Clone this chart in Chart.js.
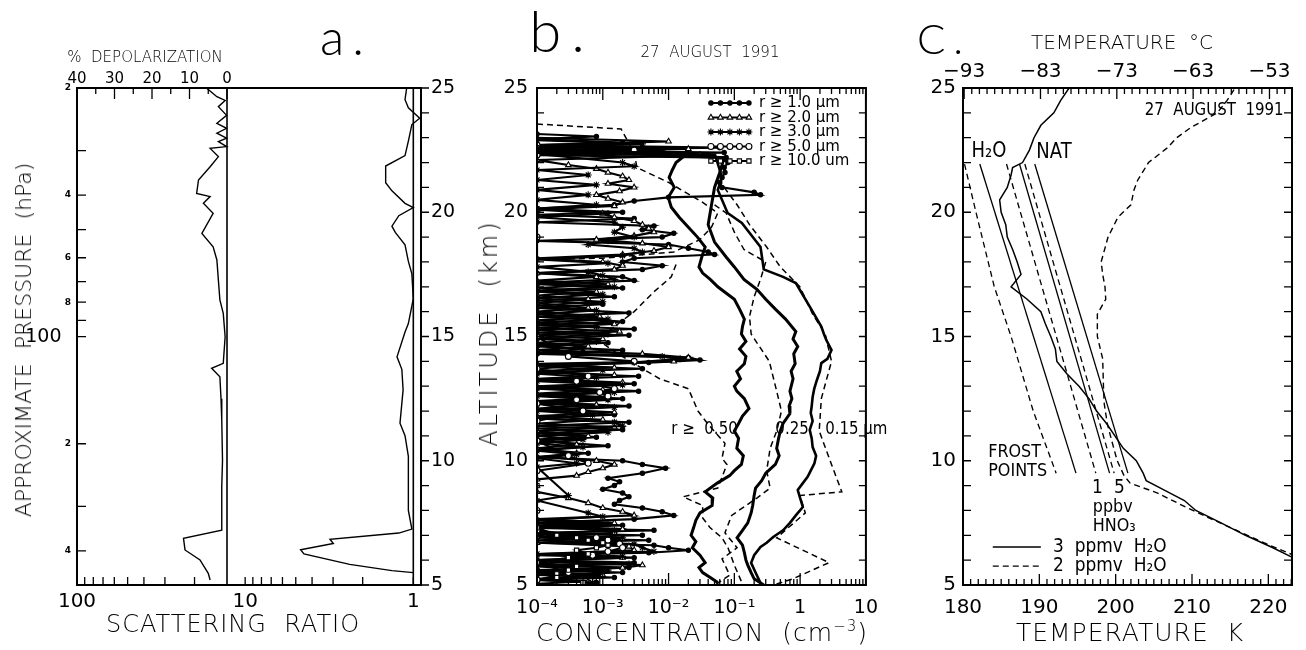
<!DOCTYPE html>
<html>
<head>
<meta charset="utf-8">
<script src="https://cdn.jsdelivr.net/npm/chart.js@4.4.1/dist/chart.umd.min.js"></script>
<style>
  html, body { margin: 0; padding: 0; background: #fff; }
  #page { position: relative; width: 1306px; height: 650px; overflow: hidden;
          font-family: 'DejaVu Sans', sans-serif; color: #000; }
  #page canvas { position: absolute; top: 0; }
  .lbl { position: absolute; white-space: pre; line-height: 1; transform: translate(-50%, -50%); font-weight: 200; }
  .big { font-family: 'Lato', 'DejaVu Sans', sans-serif; font-weight: 300; }
</style>
</head>
<body>
<div id="page">
  <canvas id="panelA" width="470" height="650" style="left:0px"></canvas>
  <canvas id="panelB" width="420" height="650" style="left:470px"></canvas>
  <canvas id="panelC" width="416" height="650" style="left:890px"></canvas>

  <!-- panel a titles -->
  <div class="lbl" style="left:145px;top:57px;font-size:15px">%  DEPOLARIZATION</div>
  <div class="lbl big" style="left:346px;top:36px;font-size:50px;letter-spacing:8px">a.</div>
  <div class="lbl" style="left:233px;top:624px;font-size:24px;letter-spacing:1px">SCATTERING  RATIO</div>
  <div class="lbl" style="left:24px;top:340px;font-size:22px;transform:translate(-50%,-50%) rotate(-90deg)">APPROXIMATE  PRESSURE  (hPa)</div>

  <!-- panel b titles -->
  <div class="lbl" style="left:489px;top:333px;font-size:24px;letter-spacing:3px;transform:translate(-50%,-50%) rotate(-90deg)">ALTITUDE  (km)</div>
  <div class="lbl big" style="left:562px;top:30px;font-size:58px;letter-spacing:10px">b.</div>
  <div class="lbl" style="left:710px;top:52px;font-size:15px">27  AUGUST  1991</div>
  <div class="lbl" style="left:702px;top:632px;font-size:25px;letter-spacing:1px">CONCENTRATION  (cm<sup style="font-size:15px">−3</sup>)</div>

  <!-- panel c titles -->
  <div class="lbl big" style="left:944px;top:38px;font-size:42px;letter-spacing:8px">C.</div>
  <div class="lbl" style="left:1122px;top:42px;font-size:20px">TEMPERATURE  °C</div>
  <div class="lbl" style="left:1130px;top:632px;font-size:25px;letter-spacing:1px">TEMPERATURE  K</div>
</div>

<script>
// ---------------- panel a: lidar profiles, [altitude km, value] ----------------
const depolProfile = [
  [24.99, 5.4], [24.65, 2.7], [24.5, 0.5], [24.25, 2.3], [23.9, 0.1], [23.58, 2.7],
  [23.38, 0.1], [23.18, 2.7], [22.98, 0.1], [22.84, 2.3], [22.64, 0.1], [22.57, 4.5],
  [22.24, 2.3], [21.83, 4.5], [21.3, 7.6], [20.76, 8.1], [20.63, 4.5], [20.36, 6.3],
  [19.96, 3.7], [19.15, 6.7], [18.61, 3.7], [18.08, 2.7], [17.27, 2.3], [16.47, 1.9],
  [15.93, 1.0], [14.99, 0.5], [13.92, 1.0], [13.72, 4.1], [13.38, 1.9], [12.5, 1.6],
  [11.64, 1.4], [10.0, 1.2], [8.96, 1.4], [7.21, 1.4], [6.88, 11.6], [6.41, 11.2],
  [6.01, 7.2], [5.47, 5.0], [5.2, 4.5]
];
const scatProfile = [
  [25.0, 1.095], [24.53, 1.12], [24.2, 1.07], [23.78, 0.916], [23.53, 1.02], [22.86, 1.07],
  [22.28, 1.12], [21.86, 1.46], [21.19, 1.46], [20.86, 1.34], [20.36, 1.12], [20.19, 1.0],
  [19.86, 1.22], [19.44, 1.34], [19.19, 1.28], [18.69, 1.12], [18.02, 1.07], [17.52, 1.02],
  [16.52, 1.0], [15.52, 1.07], [15.18, 1.12], [14.18, 1.25], [13.68, 1.17], [12.85, 1.15],
  [11.51, 1.2], [11.01, 1.12], [10.18, 1.07], [8.0, 1.07], [7.25, 1.02], [7.09, 1.22],
  [6.84, 3.13], [6.67, 2.99], [6.42, 4.68], [6.25, 4.47], [5.83, 2.39], [5.58, 1.34], [5.5, 1.0]
];
const depolZeroLine = [[5, 0], [25, 0]];
const ratioOneLine = [[5, 1], [25, 1]];

const pressureTicks = [20, 30, 40, 50, 60, 70, 80, 90, 100, 200, 300, 400];
const pressureTickLabels = ['2', '', '4', '', '6', '', '8', '', '100\u2002', '2', '', '4'];
const ratioTicks = [100, 90, 80, 70, 60, 50, 40, 30, 20, 10, 9, 8, 7, 6, 5, 4, 3, 2, 1];
const ratioTickLabels = ['100', '', '', '', '', '', '', '', '', '10', '', '', '', '', '', '', '', '', '1'];
const depolTicks = [40, 35, 30, 25, 20, 15, 10, 5, 0];
const depolTickLabels = ['40', '', '30', '', '20', '', '10', '', '0'];

// ---------------- panel b: particle concentrations, [altitude km, cm^-3] ----------------
const sol050 = [
  [22.6, 0.0001], [22.3, 0.018], [22.0, 0.013], [21.7, 0.0114], [21.4, 0.0102], [21.0, 0.0122],
  [20.6, 0.0099], [20.2, 0.011], [19.8, 0.0145], [19.4, 0.020], [19.0, 0.0275], [18.6, 0.036],
  [18.2, 0.032], [17.8, 0.029], [17.55, 0.033], [17.3, 0.043], [17.0, 0.056], [16.7, 0.079],
  [16.5, 0.10], [16.1, 0.12], [15.7, 0.142], [15.4, 0.133], [15.1, 0.128], [14.8, 0.15],
  [14.5, 0.12], [14.2, 0.15], [13.9, 0.142], [13.6, 0.109], [13.3, 0.124], [13.0, 0.10],
  [12.8, 0.109], [12.5, 0.142], [12.1, 0.167], [11.8, 0.133], [11.5, 0.116], [11.2, 0.10],
  [10.9, 0.116], [10.5, 0.109], [10.2, 0.137], [9.85, 0.128], [9.6, 0.10], [9.4, 0.085],
  [9.1, 0.055], [8.75, 0.036], [8.5, 0.047], [8.2, 0.046], [7.9, 0.030], [7.6, 0.026],
  [7.3, 0.024], [7.0, 0.022], [6.75, 0.026], [6.5, 0.023], [6.2, 0.030], [5.9, 0.036],
  [5.7, 0.029], [5.5, 0.033], [5.3, 0.043], [5.1, 0.056]
];
const sol025 = [
  [22.5, 0.0001], [22.2, 0.07], [21.6, 0.06], [21.0, 0.05], [20.3, 0.045], [19.5, 0.04],
  [18.8, 0.05], [18.2, 0.075], [17.8, 0.10], [17.3, 0.14], [16.9, 0.22], [16.5, 0.30],
  [16.1, 0.42], [15.7, 0.60], [15.2, 0.86], [14.9, 0.78], [14.6, 0.92], [14.3, 0.80],
  [13.9, 0.84], [13.6, 0.73], [13.3, 0.78], [12.8, 0.70], [12.5, 0.75], [12.2, 0.68],
  [11.9, 0.70], [11.5, 0.55], [11.2, 0.50], [10.9, 0.47], [10.5, 0.44], [10.2, 0.48],
  [9.85, 0.42], [9.5, 0.30], [9.2, 0.26], [8.9, 0.21], [8.6, 0.20], [8.2, 0.19],
  [7.9, 0.18], [7.5, 0.16], [7.2, 0.133], [6.9, 0.11], [6.6, 0.133], [6.3, 0.142],
  [6.0, 0.15], [5.8, 0.16], [5.5, 0.18], [5.25, 0.20], [5.0, 0.28]
];
const sol015 = [
  [22.4, 0.0001], [22.3, 0.051], [21.4, 0.065], [20.9, 0.056], [19.97, 0.079], [19.57, 0.13],
  [18.6, 0.25], [17.7, 0.28], [17.4, 0.55], [17.15, 0.86], [16.2, 1.4], [15.4, 2.1],
  [15.1, 2.3], [14.86, 2.5], [14.46, 3.0], [14.1, 2.6], [13.93, 2.1], [13.6, 2.0],
  [13.25, 1.8], [12.9, 1.64], [12.57, 1.55], [12.2, 1.5], [11.92, 1.45], [11.6, 1.55],
  [11.24, 1.4], [10.9, 1.5], [10.55, 1.55], [10.2, 1.75], [9.9, 1.65], [9.6, 1.45],
  [9.35, 1.3], [9.1, 1.1], [8.82, 0.92], [8.5, 1.0], [8.14, 1.1], [7.8, 0.86],
  [7.5, 0.70], [7.2, 0.55], [6.93, 0.39], [6.7, 0.31], [6.53, 0.25], [6.2, 0.20],
  [5.89, 0.18], [5.5, 0.21], [5.08, 0.25]
];
const dash050a = [
  [23.55, 0.0001], [23.35, 0.0019], [22.4, 0.003], [21.8, 0.0033], [21.2, 0.01], [20.4, 0.033],
  [19.97, 0.056], [19.4, 0.045], [18.9, 0.03], [18.4, 0.012], [18.15, 0.001], [18.1, 0.0001]
];
const dash050b = [
  [17.9, 0.013], [17.4, 0.011], [16.8, 0.006], [16.0, 0.003], [15.2, 0.0012], [14.9, 0.0008],
  [14.3, 0.0017], [13.3, 0.0073], [12.9, 0.02], [12.0, 0.028], [11.5, 0.039], [10.7, 0.072],
  [10.1, 0.065], [9.85, 0.077], [8.9, 0.056], [8.55, 0.0166], [8.2, 0.033], [7.7, 0.033],
  [7.3, 0.043], [6.9, 0.065], [6.5, 0.08], [5.8, 0.1], [5.1, 0.13]
];
const dash025 = [
  [20.3, 0.05], [19.97, 0.075], [19.2, 0.1], [18.5, 0.14], [18.0, 0.3], [17.3, 0.25],
  [16.6, 0.2], [15.8, 0.17], [15.1, 0.18], [14.0, 0.34], [12.8, 0.44], [12.0, 0.52],
  [11.2, 0.44], [10.5, 0.35], [9.6, 0.31], [8.9, 0.35], [8.5, 0.22], [7.8, 0.091],
  [7.1, 0.072], [6.5, 0.11], [6.05, 0.065], [5.4, 0.085], [5.0, 0.051]
];
const dash015 = [
  [21.0, 0.07], [20.3, 0.11], [19.5, 0.17], [18.6, 0.31], [17.8, 0.5], [17.0, 0.99],
  [15.9, 1.55], [15.1, 2.4], [14.0, 3.0], [12.5, 2.1], [11.2, 1.95], [9.85, 3.0],
  [8.75, 4.3], [8.6, 0.99], [7.9, 1.2], [6.9, 0.44], [5.9, 2.75], [5.25, 0.78], [5.0, 0.39]
];
const r1Profile = [
  [23.15, 1e-4], [23.05, 0.0008], [22.95, 1e-4], [22.8, 0.002], [22.7, 1e-4], [22.6, 0.06],
  [22.5, 1e-4], [22.4, 0.07], [22.3, 1e-4], [22.2, 0.075], [22.0, 0.08], [21.8, 0.07],
  [21.6, 0.072], [21.4, 0.065], [21.2, 0.06], [21.0, 0.065], [20.8, 0.2], [20.7, 0.25],
  [20.6, 0.01], [20.45, 0.003], [20.3, 0.0015], [20.15, 1e-4], [20.0, 0.002], [19.9, 1e-4],
  [19.75, 0.003], [19.6, 1e-4], [19.45, 0.006], [19.3, 0.004], [19.15, 0.012], [19.0, 0.008],
  [18.85, 1e-4], [18.7, 0.01], [18.55, 0.02], [18.4, 0.04], [18.3, 0.05], [18.15, 0.003],
  [18.0, 0.002], [17.85, 0.008], [17.7, 0.004], [17.55, 1e-4], [17.4, 0.002], [17.25, 0.003],
  [17.1, 1e-4], [16.95, 0.002], [16.8, 1e-4], [16.6, 0.0015], [16.45, 1e-4], [16.3, 0.001],
  [16.15, 1e-4], [15.95, 0.0025], [15.8, 1e-4], [15.6, 0.002], [15.45, 1e-4], [15.3, 0.003],
  [15.15, 1e-4], [15.05, 0.0025], [14.9, 1e-4], [14.75, 0.0012], [14.6, 1e-4], [14.45, 0.002],
  [14.3, 1e-4], [14.15, 0.02], [14.05, 0.03], [13.95, 0.005], [13.85, 1e-4], [13.7, 0.004],
  [13.55, 1e-4], [13.4, 0.0035], [13.25, 1e-4], [13.1, 0.003], [12.95, 1e-4], [12.8, 0.0035],
  [12.65, 1e-4], [12.5, 0.002], [12.35, 1e-4], [12.2, 0.0025], [12.05, 1e-4], [11.85, 0.0015],
  [11.7, 1e-4], [11.55, 0.0025], [11.4, 1e-4], [11.25, 0.002], [11.1, 1e-4], [10.95, 0.0008],
  [10.8, 1e-4], [10.6, 0.0012], [10.45, 1e-4], [10.3, 0.0006], [10.15, 1e-4], [10.0, 0.002],
  [9.85, 0.004], [9.7, 0.009], [9.5, 0.004], [9.3, 0.0012], [9.15, 0.0018], [9.0, 0.0015],
  [8.85, 0.001], [8.7, 0.002], [8.55, 0.0025], [8.4, 0.0018], [8.25, 0.0015], [8.1, 0.004],
  [7.95, 0.008], [7.8, 0.012], [7.65, 0.003], [7.5, 1e-4], [7.4, 0.002], [7.3, 1e-4],
  [7.2, 0.006], [7.1, 1e-4], [7.0, 0.004], [6.9, 1e-4], [6.8, 0.005], [6.7, 1e-4],
  [6.6, 0.006], [6.5, 0.01], [6.4, 0.02], [6.3, 0.005], [6.2, 1e-4], [6.1, 0.003],
  [6.0, 1e-4], [5.9, 0.003], [5.8, 1e-4], [5.7, 0.0025], [5.6, 1e-4], [5.5, 0.002],
  [5.4, 1e-4], [5.3, 0.0015], [5.2, 1e-4], [5.1, 0.0008], [5.02, 0.0005]
];
const r2Profile = [
  [23.0, 1e-4], [22.85, 0.01], [22.7, 1e-4], [22.55, 0.02], [22.45, 1e-4], [22.3, 0.03],
  [22.1, 1e-4], [21.9, 0.0003], [21.75, 0.0008], [21.6, 0.0012], [21.45, 0.002], [21.3, 0.0025],
  [21.15, 0.0012], [21.0, 0.003], [20.85, 0.0018], [20.7, 0.0008], [20.55, 0.0012], [20.4, 0.002],
  [20.25, 0.0015], [20.1, 1e-4], [19.95, 0.001], [19.8, 0.0015], [19.65, 0.003], [19.5, 0.004],
  [19.35, 0.005], [19.2, 0.006], [19.05, 0.003], [18.9, 0.0008], [18.75, 0.004], [18.6, 0.01],
  [18.45, 0.006], [18.3, 0.002], [18.15, 1e-4], [18.0, 0.001], [17.85, 0.002], [17.7, 0.0015],
  [17.55, 1e-4], [17.4, 0.0008], [17.25, 1e-4], [17.1, 0.0012], [16.95, 1e-4], [16.8, 0.0008],
  [16.65, 1e-4], [16.5, 0.0006], [16.35, 1e-4], [16.15, 0.0006], [16.0, 1e-4], [15.8, 0.0009],
  [15.65, 1e-4], [15.5, 0.0015], [15.35, 1e-4], [15.2, 0.0018], [15.05, 1e-4], [14.9, 0.001],
  [14.75, 1e-4], [14.6, 0.0006], [14.45, 1e-4], [14.3, 0.004], [14.15, 0.02], [14.0, 0.012],
  [13.9, 1e-4], [13.75, 0.0015], [13.6, 1e-4], [13.45, 0.0015], [13.3, 1e-4], [13.15, 0.002],
  [13.0, 1e-4], [12.85, 0.001], [12.7, 1e-4], [12.55, 0.0012], [12.4, 1e-4], [12.25, 0.0008],
  [12.1, 1e-4], [11.95, 0.0015], [11.8, 1e-4], [11.65, 0.001], [11.5, 1e-4], [11.35, 0.0015],
  [11.2, 1e-4], [11.0, 0.0006], [10.85, 1e-4], [10.65, 0.0004], [10.5, 1e-4], [10.3, 0.0004],
  [10.15, 1e-4], [10.0, 0.0008], [9.85, 0.0015], [9.7, 0.001], [9.55, 0.0006], [9.4, 0.0004],
  [9.25, 1e-4], [9.0, 1e-4], [8.75, 1e-4], [8.5, 0.0003], [8.3, 0.0006], [8.1, 0.001],
  [7.95, 0.002], [7.8, 0.003], [7.65, 1e-4], [7.5, 0.0015], [7.4, 1e-4], [7.25, 0.002],
  [7.1, 0.0015], [6.95, 1e-4], [6.85, 0.002], [6.7, 1e-4], [6.55, 0.0025], [6.4, 0.003],
  [6.25, 1e-4], [6.1, 0.002], [5.95, 1e-4], [5.8, 0.004], [5.7, 0.002], [5.55, 1e-4],
  [5.4, 0.001], [5.25, 1e-4], [5.15, 0.0006], [5.05, 1e-4]
];
const r3Profile = [
  [22.9, 1e-4], [22.75, 0.004], [22.65, 1e-4], [22.5, 0.008], [22.35, 1e-4], [22.0, 0.002],
  [21.85, 0.003], [21.7, 1e-4], [21.5, 0.0006], [21.3, 1e-4], [21.1, 0.0008], [20.9, 1e-4],
  [20.7, 0.0006], [20.5, 1e-4], [20.3, 0.0008], [20.15, 1e-4], [19.95, 0.0012], [19.8, 1e-4],
  [19.6, 0.0015], [19.4, 0.002], [19.2, 0.0015], [19.0, 0.003], [18.85, 0.0012], [18.7, 0.0006],
  [18.55, 0.003], [18.4, 0.004], [18.25, 0.002], [18.1, 1e-4], [17.95, 0.0012], [17.8, 1e-4],
  [17.6, 0.0006], [17.45, 0.001], [17.3, 0.0015], [17.15, 1e-4], [17.0, 0.0015], [16.85, 1e-4],
  [16.7, 0.001], [16.55, 1e-4], [16.4, 0.001], [16.25, 1e-4], [16.05, 0.0008], [15.9, 1e-4],
  [15.7, 0.0012], [15.55, 1e-4], [15.4, 0.0008], [15.25, 1e-4], [15.1, 0.0012], [14.95, 1e-4],
  [14.8, 0.0008], [14.65, 1e-4], [14.5, 0.0005], [14.35, 1e-4], [14.2, 0.008], [14.1, 0.015],
  [13.95, 0.003], [13.8, 1e-4], [13.65, 0.001], [13.5, 1e-4], [13.35, 0.0008], [13.2, 1e-4],
  [13.05, 0.002], [12.9, 1e-4], [12.75, 0.0015], [12.6, 1e-4], [12.45, 0.0012], [12.3, 1e-4],
  [12.15, 0.0015], [12.0, 1e-4], [11.85, 0.0007], [11.7, 1e-4], [11.55, 0.0015], [11.4, 0.002],
  [11.3, 1e-4], [11.15, 0.0012], [11.0, 1e-4], [10.85, 0.0005], [10.7, 1e-4], [10.55, 0.0005],
  [10.4, 1e-4], [10.25, 0.0004], [10.1, 1e-4], [9.9, 0.0004], [9.75, 1e-4], [8.6, 0.0003],
  [8.4, 1e-4], [7.9, 0.0006], [7.75, 0.001], [7.6, 1e-4], [7.45, 0.0012], [7.35, 1e-4],
  [7.2, 0.0015], [7.05, 1e-4], [6.9, 0.002], [6.8, 1e-4], [6.65, 0.003], [6.5, 0.004],
  [6.35, 0.006], [6.25, 1e-4], [6.15, 0.002], [6.0, 1e-4], [5.85, 0.0025], [5.75, 1e-4],
  [5.6, 0.0012], [5.5, 1e-4], [5.35, 0.0008], [5.2, 1e-4], [5.1, 0.0007]
];
const r5Profile = [
  [22.7, 1e-4], [22.5, 0.003], [22.3, 1e-4], [19.0, 1e-4], [15.0, 1e-4], [14.2, 0.0003],
  [14.0, 0.003], [13.7, 1e-4], [13.4, 0.0006], [13.2, 0.0004], [12.9, 0.0015], [12.75, 0.0009],
  [12.6, 0.0012], [12.45, 0.0004], [12.3, 1e-4], [12.0, 0.0005], [11.6, 1e-4], [10.8, 1e-4],
  [10.2, 0.0003], [9.9, 0.0006], [9.6, 1e-4], [8.0, 1e-4], [7.2, 1e-4], [6.9, 0.0008],
  [6.8, 0.0012], [6.65, 0.0018], [6.5, 0.002], [6.35, 0.0012], [6.2, 0.0007], [5.9, 1e-4],
  [5.5, 0.0003], [5.2, 1e-4]
];
const r10Profile = [
  [22.6, 1e-4], [15.0, 1e-4], [9.0, 1e-4], [7.3, 1e-4], [7.0, 0.0002], [6.9, 0.0004],
  [6.8, 0.0006], [6.7, 0.001], [6.6, 0.0012], [6.5, 0.0008], [6.4, 0.0004], [6.25, 0.0006],
  [6.1, 0.0003], [5.9, 1e-4], [5.75, 0.0004], [5.6, 0.0003], [5.45, 0.0002], [5.3, 0.0002],
  [5.1, 0.0005]
];
const concDecades = [1e-4, 1e-3, 1e-2, 1e-1, 1, 10];
const concDecadeLabels = ['10⁻⁴', '10⁻³', '10⁻²', '10⁻¹', '1', '10'];
const sizeLegend = ['r ≥ 1.0 µm', 'r ≥ 2.0 µm', 'r ≥ 3.0 µm', 'r ≥ 5.0 µm', 'r ≥ 10.0 um'];

// ---------------- panel c: temperatures, [altitude km, K] ----------------
const tempProfile = [
  [25, 193.9], [24.5, 192.8], [24, 191.9], [23.5, 190.2], [23, 189.3], [22.5, 188.7],
  [22, 187.8], [21.8, 186.5], [21.5, 186.3], [21, 185.8], [20.5, 184.8], [20, 185.0],
  [19.5, 185.6], [19, 185.8], [18.5, 186.5], [18, 187.1], [17.5, 187.6], [17, 186.3],
  [16.5, 188.4], [16, 190.2], [15.5, 190.8], [15, 191.5], [14.5, 192.1], [14, 192.3],
  [13.5, 193.6], [13, 195.2], [12.5, 196.5], [12, 197.5], [11.5, 198.8], [11, 199.9],
  [10.5, 201.0], [10, 202.7], [9.5, 203.6], [9.2, 204.0], [8.8, 206.5], [8.4, 209.0],
  [8.0, 210.5], [7.5, 213.8], [7.0, 217.0], [6.5, 220.6], [6.1, 223.2]
];
const sondeProfile = [
  [24.93, 215.5], [24.5, 214.6], [24.0, 213.3], [23.4, 209.8], [23.0, 208.0], [22.6, 206.8],
  [22.0, 204.3], [21.3, 202.9], [20.9, 202.4], [20.3, 202.0], [19.8, 200.3], [19.0, 199.0],
  [18.0, 198.1], [17.5, 198.3], [17.0, 198.6], [16.5, 198.7], [15.9, 197.6], [15.0, 197.6],
  [14.1, 198.3], [13.0, 198.4], [12.3, 198.5], [11.5, 198.9], [10.9, 199.4], [10.0, 200.2],
  [9.4, 201.1], [9.1, 201.9], [8.7, 205.5], [8.1, 209.4], [7.3, 215.1], [6.7, 219.4], [6.2, 223.3]
];
const frost2ppmv = [[21.94, 180.2], [20.0, 181.7], [17.0, 184.1], [15.0, 186.3], [12.0, 189.2], [9.5, 192.2]];
const frost3ppmv = [[21.94, 182.2], [9.5, 194.8]];
const nat1ppbv2ppmv = [[21.94, 185.7], [9.5, 197.4]];
const nat1ppbv3ppmv = [[21.94, 187.4], [9.5, 199.2]];
const nat5ppbv2ppmv = [[21.94, 188.1], [9.5, 199.8]];
const nat5ppbv3ppmv = [[21.94, 189.4], [9.5, 201.6]];

// ---------------- helpers ----------------
Chart.defaults.font.family = "'DejaVu Sans', sans-serif";
Chart.defaults.color = '#000';

function toPoints(profile) {
  return profile.map(([alt, v]) => ({ x: v, y: alt }));
}

function fixSize(size) {
  return (scale) => {
    if (scale.isHorizontal()) scale.height = size; else scale.width = size;
  };
}

function setTicks(values) {
  return (scale) => { scale.ticks = values.map(v => ({ value: v })); };
}

function range(a, b) {
  const out = [];
  for (let v = a; v <= b; v++) out.push(v);
  return out;
}

function isDecade(v) {
  return concDecades.some(d => Math.abs(v / d - 1) < 1e-6);
}

function curve(profile, extra) {
  return Object.assign({
    data: toPoints(profile),
    showLine: true,
    borderColor: '#000',
    borderWidth: 1.3,
    pointRadius: 0,
    fill: false
  }, extra || {});
}

function bareAxis(extra) {
  return Object.assign({
    grid: { display: false, drawTicks: false },
    border: { display: false }
  }, extra);
}

// frame, tick marks and in-plot text, drawn with the chart's own scales
function decor(spec) {
  return {
    id: 'decor',
    afterDraw(chart) {
      const ctx = chart.ctx;
      const a = chart.chartArea;
      ctx.save();
      ctx.strokeStyle = '#000';
      ctx.fillStyle = '#000';
      (spec.ticks || []).forEach((t) => {
        const s = chart.scales[t.scale];
        const sign = t.dir === 'in' ? 1 : -1;
        ctx.lineWidth = t.width || 1.3;
        ctx.beginPath();
        s.ticks.forEach((tick) => {
          const p = s.getPixelForValue(tick.value);
          const len = (t.isMajor && t.isMajor(tick.value)) ? t.majorLen : t.len;
          if (s.position === 'bottom') { ctx.moveTo(p, a.bottom); ctx.lineTo(p, a.bottom - sign * len); }
          else if (s.position === 'top') { ctx.moveTo(p, a.top); ctx.lineTo(p, a.top + sign * len); }
          else if (s.position === 'left') { ctx.moveTo(a.left, p); ctx.lineTo(a.left + sign * len, p); }
          else { ctx.moveTo(a.right, p); ctx.lineTo(a.right - sign * len, p); }
        });
        ctx.stroke();
      });
      ctx.lineWidth = spec.frame || 2;
      ctx.strokeRect(a.left, a.top, a.right - a.left, a.bottom - a.top);

      const xs = chart.scales.x;
      const ys = chart.scales.y;
      (spec.texts || []).forEach((t) => {
        ctx.save();
        ctx.font = t.font || "15px 'DejaVu Sans'";
        ctx.textAlign = t.align || 'left';
        ctx.textBaseline = 'middle';
        ctx.translate(xs.getPixelForValue(t.x), ys.getPixelForValue(t.y));
        ctx.scale(1, 1.15);
        ctx.fillText(t.text, 0, 0);
        ctx.restore();
      });
      if (spec.extra) spec.extra(chart, ctx);
      ctx.restore();
    }
  };
}

// ---------------- panel a ----------------
new Chart(document.getElementById('panelA'), {
  type: 'scatter',
  data: {
    datasets: [
      curve(depolProfile, { xAxisID: 'x2', borderWidth: 1.4 }),
      curve(scatProfile, { borderWidth: 1.4 }),
      curve(depolZeroLine, { xAxisID: 'x2', borderWidth: 1.6 }),
      curve(ratioOneLine, { borderWidth: 1.6 })
    ]
  },
  options: {
    responsive: false,
    animation: false,
    layout: { padding: 0 },
    plugins: { legend: { display: false }, tooltip: { enabled: false } },
    scales: {
      x: bareAxis({
        type: 'logarithmic', position: 'bottom', reverse: true, min: 0.9, max: 100,
        afterBuildTicks: setTicks(ratioTicks), afterFit: fixSize(65),
        ticks: { autoSkip: false, maxRotation: 0, padding: 5, font: { size: 20 },
                 callback: (v, i) => ratioTickLabels[i] }
      }),
      x2: bareAxis({
        type: 'linear', position: 'top', reverse: true, min: -51.73, max: 40,
        afterBuildTicks: setTicks(depolTicks), afterFit: fixSize(88),
        ticks: { autoSkip: false, maxRotation: 0, padding: 0, font: { size: 15 },
                 callback: (v, i) => depolTickLabels[i] }
      }),
      y: { type: 'linear', display: false, min: 5, max: 25 },
      yp: bareAxis({
        type: 'logarithmic', position: 'left', reverse: true, min: 20, max: 499,
        afterBuildTicks: setTicks(pressureTicks), afterFit: fixSize(77),
        ticks: { autoSkip: false, padding: 6,
                 font: (c) => (c.tick && c.tick.value === 100) ? { size: 19 } : { size: 9, weight: 'bold' },
                 callback: (v, i) => pressureTickLabels[i] }
      }),
      yr: bareAxis({
        type: 'linear', position: 'right', min: 5, max: 25,
        afterBuildTicks: setTicks(range(5, 25)), afterFit: fixSize(49),
        ticks: { autoSkip: false, padding: 10, font: { size: 19 },
                 callback: (v) => (v % 5 === 0 ? String(v) : '') }
      })
    }
  },
  plugins: [decor({
    frame: 2,
    ticks: [
      { scale: 'yp', dir: 'in', len: 9 },
      { scale: 'x2', dir: 'in', len: 6, majorLen: 11, isMajor: v => v % 10 === 0 },
      { scale: 'x', dir: 'in', len: 8, majorLen: 8 },
      { scale: 'yr', dir: 'out', len: 8 }
    ]
  })]
});

// ---------------- panel b ----------------
const concTicks = [];
concDecades.slice(0, -1).forEach(d => { for (let m = 1; m <= 9; m++) concTicks.push(m * d); });
concTicks.push(10);

const markerStyles = [
  { pointStyle: 'circle', pointRadius: 2.2, pointBackgroundColor: '#000' },
  { pointStyle: 'triangle', pointRadius: 3.2, pointBackgroundColor: '#fff' },
  { pointStyle: 'star', pointRadius: 3.5, pointBackgroundColor: '#000' },
  { pointStyle: 'circle', pointRadius: 3, pointBackgroundColor: '#fff' },
  { pointStyle: 'rect', pointRadius: 3, pointBackgroundColor: '#fff' }
];

function spiky(profile, k) {
  return curve(profile, Object.assign({
    borderWidth: 2.1, pointBorderColor: '#000', pointBorderWidth: 1.1
  }, markerStyles[k]));
}

new Chart(document.getElementById('panelB'), {
  type: 'scatter',
  data: {
    datasets: [
      curve(dash050a, { borderDash: [6, 4], borderWidth: 1.5 }),
      curve(dash050b, { borderDash: [6, 4], borderWidth: 1.5 }),
      curve(dash025, { borderDash: [6, 4], borderWidth: 1.5 }),
      curve(dash015, { borderDash: [6, 4], borderWidth: 1.5 }),
      curve(sol050, { borderWidth: 3 }),
      curve(sol025, { borderWidth: 3 }),
      curve(sol015, { borderWidth: 2.6 }),
      spiky(r10Profile, 4),
      spiky(r5Profile, 3),
      spiky(r3Profile, 2),
      spiky(r2Profile, 1),
      spiky(r1Profile, 0)
    ]
  },
  options: {
    responsive: false,
    animation: false,
    layout: { padding: 0 },
    plugins: { legend: { display: false }, tooltip: { enabled: false } },
    scales: {
      x: bareAxis({
        type: 'logarithmic', position: 'bottom', min: 1e-4, max: 10,
        afterBuildTicks: setTicks(concTicks), afterFit: fixSize(65),
        ticks: { autoSkip: false, maxRotation: 0, padding: 12, font: { size: 19 },
                 callback: (v) => { const k = concDecades.findIndex(d => Math.abs(v / d - 1) < 1e-6); return k >= 0 ? concDecadeLabels[k] : ''; } }
      }),
      x2: bareAxis({
        type: 'logarithmic', position: 'top', min: 1e-4, max: 10,
        afterBuildTicks: setTicks(concTicks), afterFit: fixSize(88),
        ticks: { display: false }
      }),
      y: bareAxis({
        type: 'linear', position: 'left', min: 5, max: 25,
        afterBuildTicks: setTicks(range(5, 25)), afterFit: fixSize(67),
        ticks: { autoSkip: false, padding: 9, font: { size: 19 },
                 callback: (v) => (v % 5 === 0 ? String(v) : '') }
      }),
      y2: bareAxis({
        type: 'linear', position: 'right', min: 5, max: 25,
        afterBuildTicks: setTicks(range(5, 25)), afterFit: fixSize(15),
        ticks: { display: false }
      })
    }
  },
  plugins: [decor({
    frame: 2,
    ticks: [
      { scale: 'x', dir: 'in', len: 6, majorLen: 12, isMajor: isDecade },
      { scale: 'x2', dir: 'in', len: 6, majorLen: 12, isMajor: isDecade },
      { scale: 'y', dir: 'in', len: 7 },
      { scale: 'y2', dir: 'in', len: 7 }
    ],
    texts: [
      { text: 'r ≥  0.50', x: 0.011, y: 11.24 },
      { text: '0.25', x: 0.42, y: 11.24 },
      { text: '0.15 µm', x: 2.4, y: 11.24 }
    ],
    extra(chart, ctx) {
      const a = chart.chartArea;
      const drawPoint = Chart.helpers && Chart.helpers.drawPoint;
      sizeLegend.forEach((label, k) => {
        const y = a.top + 15 + k * 14.5;
        const x0 = a.right - 157, x1 = a.right - 115;
        ctx.lineWidth = 1.8;
        ctx.beginPath(); ctx.moveTo(x0, y); ctx.lineTo(x1, y); ctx.stroke();
        const st = markerStyles[k];
        for (let j = 0; j < 5; j++) {
          const px = x0 + 2 + j * (x1 - x0 - 4) / 4;
          ctx.fillStyle = st.pointBackgroundColor;
          ctx.lineWidth = 1.1;
          if (drawPoint) drawPoint(ctx, { pointStyle: st.pointStyle, radius: st.pointRadius, borderWidth: 1.1, rotation: 0 }, px, y);
        }
        ctx.fillStyle = '#000';
        ctx.save();
        ctx.font = "15px 'DejaVu Sans'";
        ctx.textBaseline = 'middle';
        ctx.translate(a.right - 107, y);
        ctx.scale(1, 1.1);
        ctx.fillText(label, 0, 0);
        ctx.restore();
      });
    }
  })]
});

// ---------------- panel c ----------------
const ABS_ZERO = 273.15;
const tempMinK = 180, tempMaxK = 223.1;

new Chart(document.getElementById('panelC'), {
  type: 'scatter',
  data: {
    datasets: [
      curve(frost2ppmv, { borderDash: [6, 4], borderWidth: 1.3 }),
      curve(frost3ppmv, { borderWidth: 1.3 }),
      curve(nat1ppbv2ppmv, { borderDash: [6, 4], borderWidth: 1.3 }),
      curve(nat1ppbv3ppmv, { borderWidth: 1.3 }),
      curve(nat5ppbv2ppmv, { borderDash: [6, 4], borderWidth: 1.3 }),
      curve(nat5ppbv3ppmv, { borderWidth: 1.3 }),
      curve(sondeProfile, { borderDash: [6, 4], borderWidth: 1.4 }),
      curve(tempProfile, { borderWidth: 1.5 })
    ]
  },
  options: {
    responsive: false,
    animation: false,
    layout: { padding: 0 },
    plugins: { legend: { display: false }, tooltip: { enabled: false } },
    scales: {
      x: bareAxis({
        type: 'linear', position: 'bottom', min: tempMinK, max: tempMaxK,
        afterBuildTicks: setTicks(range(180, 223)), afterFit: fixSize(65),
        ticks: { autoSkip: false, maxRotation: 0, padding: 11, font: { size: 20 },
                 callback: (v) => (v % 10 === 0 ? String(v) : '') }
      }),
      x2: bareAxis({
        type: 'linear', position: 'top', min: tempMinK - ABS_ZERO, max: tempMaxK - ABS_ZERO,
        afterBuildTicks: setTicks(range(-93, -51)), afterFit: fixSize(88),
        ticks: { autoSkip: false, maxRotation: 0, padding: 4, font: { size: 20 },
                 callback: (v) => ((v + 93) % 10 === 0 ? '−' + Math.abs(v) : '') }
      }),
      y: bareAxis({
        type: 'linear', position: 'left', min: 5, max: 25,
        afterBuildTicks: setTicks(range(5, 25)), afterFit: fixSize(73),
        ticks: { autoSkip: false, padding: 7, font: { size: 20 },
                 callback: (v) => (v % 5 === 0 ? String(v) : '') }
      }),
      y2: bareAxis({
        type: 'linear', position: 'right', min: 5, max: 25,
        afterBuildTicks: setTicks(range(5, 25)), afterFit: fixSize(14),
        ticks: { display: false }
      })
    }
  },
  plugins: [decor({
    frame: 2,
    ticks: [
      { scale: 'x', dir: 'in', len: 6, majorLen: 11, isMajor: v => v % 10 === 0 },
      { scale: 'x2', dir: 'in', len: 6, majorLen: 11, isMajor: v => (v + 93) % 10 === 0 },
      { scale: 'y', dir: 'in', len: 8 },
      { scale: 'y2', dir: 'in', len: 8 }
    ],
    texts: [
      { text: 'H₂O', x: 181.1, y: 22.43, font: "18px 'DejaVu Sans'" },
      { text: 'NAT', x: 189.6, y: 22.4, font: "18px 'DejaVu Sans'" },
      { text: 'FROST', x: 183.3, y: 10.35, font: "16px 'DejaVu Sans'" },
      { text: 'POINTS', x: 183.3, y: 9.58, font: "16px 'DejaVu Sans'" },
      { text: '1', x: 197.6, y: 8.9, font: "17px 'DejaVu Sans'", align: 'center' },
      { text: '5', x: 200.5, y: 8.9, font: "17px 'DejaVu Sans'", align: 'center' },
      { text: 'ppbv', x: 197.0, y: 8.13, font: "16px 'DejaVu Sans'" },
      { text: 'HNO₃', x: 197.0, y: 7.36, font: "16px 'DejaVu Sans'" },
      { text: '3  ppmv  H₂O', x: 191.8, y: 6.53, font: "17px 'DejaVu Sans'" },
      { text: '2  ppmv  H₂O', x: 191.8, y: 5.76, font: "17px 'DejaVu Sans'" },
      { text: '27  AUGUST  1991', x: 222.0, y: 24.1, font: "15px 'DejaVu Sans'", align: 'right' }
    ],
    extra(chart, ctx) {
      const xs = chart.scales.x, ys = chart.scales.y;
      [[6.53, []], [5.76, [6, 4]]].forEach(([alt, dash]) => {
        ctx.lineWidth = 1.4;
        ctx.setLineDash(dash);
        ctx.beginPath();
        ctx.moveTo(xs.getPixelForValue(183.9), ys.getPixelForValue(alt));
        ctx.lineTo(xs.getPixelForValue(190.2), ys.getPixelForValue(alt));
        ctx.stroke();
      });
      ctx.setLineDash([]);
    }
  })]
});
</script>
</body>
</html>
